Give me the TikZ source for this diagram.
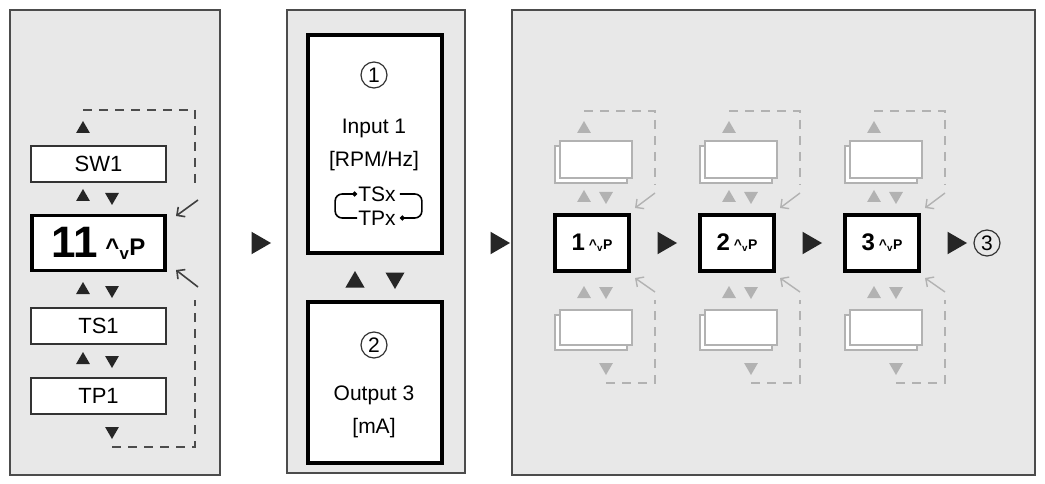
\documentclass[tikz,border=0pt]{standalone}
\usepackage{fontspec}
\setmainfont{Liberation Sans}
\usetikzlibrary{shapes.geometric,arrows.meta}
\definecolor{panelgray}{gray}{0.91}
\definecolor{ghost}{gray}{0.70}
\tikzset{
  panel/.style={draw=black!70,line width=1.6pt,fill=panelgray},
  item/.style={draw=black!80,fill=white,line width=1.2pt,minimum width=135pt,minimum height=36pt,inner sep=0pt,font=\fontsize{22}{22}\selectfont},
  cur/.style={draw=black,fill=white,line width=3.2pt,inner sep=0pt},
  tri/.style={regular polygon,regular polygon sides=3,fill=#1,inner sep=0pt,minimum size=16pt},
  tri/.default=black!85,
  loop/.style={dash pattern=on 9pt off 7pt,line width=1.8pt,draw=#1},
  num/.style={circle,draw=black!80,line width=1.2pt,inner sep=0pt,minimum size=26pt,font=\fontsize{21}{21}\selectfont},
  txt/.style={font=\fontsize{21}{21}\selectfont,inner sep=1pt}
}
\begin{document}
\begin{tikzpicture}[x=1pt,y=-1pt]
  \useasboundingbox (0,0) rectangle (1045,484);
  % panels
  \draw[panel] (10,10) rectangle (220,475);
  \draw[panel] (287,10) rectangle (465,473);
  \draw[panel] (512,10) rectangle (1035,475);
  % first panel
  \node[item] (sw) at (98.5,164) {SW1};
  \node[cur,minimum width=133pt,minimum height=55pt] (cur) at (98.5,243) {\fontsize{44}{44}\selectfont\bfseries 11\,\fontsize{24}{24}\selectfont\raisebox{2pt}{\^{}\textsubscript{v}P}};
  \node[item] (ts) at (98.5,326) {TS1};
  \node[item] (tp) at (98.5,396) {TP1};
  \node[tri] (up0) at (83,129) {};
  \foreach \y/\n in {197/a,290/b,360/c}{
    \node[tri] (up\n) at (83,\y) {};
    \node[tri,rotate=180] (dn\n) at (112,\y) {};
  }
  \node[tri,rotate=180] (dn0) at (112,431) {};
  \coordinate (lt) at (83,110);
  \coordinate (lb) at (112,447);
  \draw[loop=black!70] (lt) -- (195,110) -- (195,185);
  \draw[loop=black!70] (lb) -- (195,447) -- (195,300);
  \draw[-{Straight Barb[length=6pt]},line width=1.6pt,black!75] (198,200) -- (176,216);
  \draw[-{Straight Barb[length=6pt]},line width=1.6pt,black!75] (198,287) -- (176,270);
  % flow arrows
  \node[tri,rotate=-90,minimum size=26pt] (fa) at (258,243) {};
  \node[tri,rotate=-90,minimum size=26pt] (fb) at (497,243) {};
  % second panel
  \draw[line width=3.2pt,fill=white] (308,35) rectangle (442,253);
  \draw[line width=3.2pt,fill=white] (308,302) rectangle (442,463);
  \node[num] (n1) at (374,75) {1};
  \node[txt] (in) at (374,128) {Input 1};
  \node[txt] (unit) at (374,161) {[RPM/Hz]};
  \node[txt] (tsx) at (377,194) {TSx};
  \node[txt] (tpx) at (377,218) {TPx};
  \draw[line width=1.6pt,rounded corners=7pt,-{Circle[length=5pt]}] (tpx.west) -- ++(-22,0) -- ++(0,-24) -- (tsx.west);
  \draw[line width=1.6pt,rounded corners=7pt,-{Circle[length=5pt]}] ([xshift=3pt]tsx.east) -- ++(22,0) -- ++(0,24) -- ([xshift=3pt]tpx.east);
  \node[tri,minimum size=22pt] (pup) at (355,282) {};
  \node[tri,rotate=180,minimum size=22pt] (pdn) at (395,278) {};
  \node[num] (n2) at (374,345) {2};
  \node[txt] (out) at (374,395) {Output 3};
  \node[txt] (ma) at (374,428) {[mA]};
  % third panel
  \foreach \i in {1,2,3}{
    \pgfmathsetmacro{\cx}{592+145*(\i-1)}
    \begin{scope}[shift={(\cx,0)}]
      \draw[ghost,line width=1.4pt,fill=white] (-37,146) rectangle (35,183);
      \draw[ghost,line width=1.4pt,fill=white] (-32,141) rectangle (40,178);
      \draw[ghost,line width=1.4pt,fill=white] (-37,315) rectangle (35,350);
      \draw[ghost,line width=1.4pt,fill=white] (-32,310) rectangle (40,345);
      \node[tri=ghost] at (-8,129) {};
      \node[tri=ghost] at (-8,198) {};
      \node[tri=ghost,rotate=180] at (14,196) {};
      \node[tri=ghost] at (-8,294) {};
      \node[tri=ghost,rotate=180] at (14,291) {};
      \node[tri=ghost,rotate=180] at (14,367) {};
      \draw[loop=ghost] (-8,111) -- (63,111) -- (63,185);
      \draw[loop=ghost] (14,383) -- (63,383) -- (63,300);
      \draw[-{Straight Barb[length=6pt]},line width=1.4pt,ghost] (63,193) -- (43,208);
      \draw[-{Straight Barb[length=6pt]},line width=1.4pt,ghost] (63,292) -- (43,278);
    \end{scope}
    \node[cur,minimum width=74pt,minimum height=56pt] (s\i) at (\cx,243) {\fontsize{24}{24}\selectfont\bfseries \i\,\fontsize{14}{14}\selectfont\raisebox{1pt}{\^{}\textsubscript{v}P}};
    \node[tri,rotate=-90,minimum size=26pt] (g\i) at (\cx+72,243) {};
  }
  \node[num] (n3) at (987,243) {3};
\end{tikzpicture}
\end{document}
